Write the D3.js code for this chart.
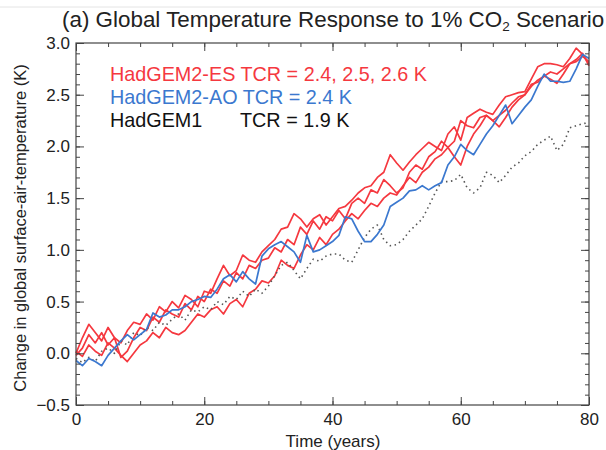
<!DOCTYPE html>
<html>
<head>
<meta charset="utf-8">
<script src="https://d3js.org/d3.v7.min.js"></script>
<style>
  body { margin: 0; background: #fff; }
  svg text { font-family: "Liberation Sans", Arial, sans-serif; fill: #222; }
</style>
</head>
<body>
<svg id="chart" width="606" height="450"></svg>
<script>
// years 0..80, one value per year (K)
var years = d3.range(0, 81);

var esRun1 = [0.0, 0.15, 0.28, 0.2, 0.12, 0.25, 0.15, 0.1, 0.22, 0.3,
  0.28, 0.38, 0.32, 0.45, 0.4, 0.5, 0.44, 0.56, 0.52, 0.45,
  0.6, 0.58, 0.72, 0.85, 0.75, 0.8, 0.95, 0.9, 0.88, 0.98,
  1.04, 1.1, 1.2, 1.22, 1.35, 1.3, 1.22, 1.3, 1.34, 1.24,
  1.32, 1.4, 1.42, 1.48, 1.55, 1.6, 1.62, 1.7, 1.75, 1.92,
  1.84, 1.77, 1.85, 1.92, 1.98, 2.04, 2.0, 1.96, 2.12, 2.19,
  2.06, 2.28, 2.32, 2.36, 2.33, 2.31, 2.4, 2.48, 2.5, 2.52,
  2.53, 2.65, 2.77, 2.8, 2.8, 2.79, 2.77, 2.85, 2.95, 2.89, 2.8];

var esRun2 = [-0.02, 0.05, 0.18, 0.1, 0.2, 0.08, 0.15, -0.04, 0.02, 0.15,
  0.25, 0.22, 0.35, 0.3, 0.42, 0.38, 0.35, 0.48, 0.42, 0.55,
  0.5, 0.62, 0.58, 0.7, 0.65, 0.78, 0.72, 0.85, 0.82, 0.9,
  0.92, 1.02, 0.98, 1.1, 1.05, 1.22, 1.15, 1.28, 1.2, 1.32,
  1.28, 1.38, 1.3, 1.45, 1.5, 1.45, 1.58, 1.55, 1.68, 1.62,
  1.55, 1.6, 1.75, 1.82, 1.78, 1.9, 1.95, 2.05, 1.99, 2.05,
  2.25, 2.2, 2.18, 2.28, 2.3, 2.25, 2.3, 2.35, 2.42, 2.48,
  2.5, 2.6, 2.62, 2.68, 2.72, 2.7, 2.75, 2.8, 2.84, 2.9, 2.78];

var esRun3 = [0.02, -0.03, 0.08, 0.02, -0.02, 0.1, 0.05, -0.02, -0.08, 0.0,
  0.08, 0.12, 0.2, 0.15, 0.25, 0.2, 0.18, 0.22, 0.3, 0.38,
  0.35, 0.42, 0.45, 0.38, 0.48, 0.52, 0.45, 0.58, 0.62, 0.7,
  0.68, 0.75, 0.9, 0.85, 0.82, 0.95, 1.05, 1.0, 1.12, 1.05,
  1.15, 1.2, 1.28, 1.35, 1.3, 1.38, 1.45, 1.42, 1.5, 1.55,
  1.53, 1.62, 1.7, 1.65, 1.75, 1.8, 1.88, 1.92, 1.99, 1.9,
  1.82, 2.0, 2.12, 2.2, 2.3, 2.25, 2.19, 2.28, 2.38, 2.45,
  2.5, 2.58, 2.64, 2.68, 2.65, 2.61, 2.7, 2.8, 2.82, 2.87, 2.82];

var aoRun = [-0.07, -0.12, -0.05, -0.08, -0.12, -0.02, 0.05, 0.12, 0.18, 0.13,
  0.18, 0.23, 0.39, 0.35, 0.37, 0.42, 0.42, 0.45, 0.5, 0.52,
  0.55, 0.54, 0.62, 0.72, 0.76, 0.69, 0.79, 0.72, 0.67, 0.94,
  1.01, 1.05, 1.08, 1.03, 0.98, 0.88, 1.14, 0.98, 1.0, 1.04,
  1.08, 1.14, 1.32, 1.3, 1.18, 1.08, 1.08, 1.15, 1.24, 1.42,
  1.46, 1.5, 1.57, 1.58, 1.62, 1.58, 1.62, 1.65, 1.82, 1.9,
  2.02, 1.96, 1.92, 2.02, 2.12, 2.2, 2.3, 2.4, 2.22, 2.3,
  2.38, 2.45, 2.58, 2.7, 2.63, 2.63, 2.62, 2.63, 2.75, 2.89, 2.85];

var gem1Run = [-0.05, -0.09, -0.04, -0.08, 0.02, 0.05, 0.0, 0.12, 0.08, 0.2,
  0.17, 0.25, 0.22, 0.3, 0.27, 0.33, 0.38, 0.32, 0.42, 0.4,
  0.45, 0.42, 0.5, 0.47, 0.55, 0.52, 0.6, 0.55, 0.62, 0.58,
  0.65, 0.75, 0.85, 0.88, 0.8, 0.72, 0.82, 0.91, 0.89, 0.94,
  0.96, 0.96, 0.9, 0.88, 1.0, 1.12, 1.2, 1.24, 1.1, 1.04,
  1.05, 1.1, 1.18, 1.24, 1.3, 1.42, 1.55, 1.66, 1.66, 1.67,
  1.73, 1.6, 1.55, 1.6, 1.75, 1.72, 1.65, 1.72, 1.8, 1.84,
  1.91, 1.95, 2.02, 2.06, 2.1, 1.96, 2.02, 2.18, 2.2, 2.22, 2.23];

var xTicks = [0, 20, 40, 60, 80];
var yTicks = [-0.5, 0.0, 0.5, 1.0, 1.5, 2.0, 2.5, 3.0];

var series = [
  {name: "es1", values: esRun1, color: "#f5383f", dash: null},
  {name: "es2", values: esRun2, color: "#f5383f", dash: null},
  {name: "es3", values: esRun3, color: "#f5383f", dash: null},
  {name: "gem1", values: gem1Run, color: "#555", dash: "1.5,3.5"},
  {name: "ao", values: aoRun, color: "#3b78cf", dash: null}
];

var svg = d3.select("#chart");
var margin = {top: 43, right: 17, bottom: 45, left: 76};
var W = 606, H = 450;
var w = W - margin.left - margin.right;
var h = H - margin.top - margin.bottom;

// faint rule at very top
svg.append("line").attr("x1", 0).attr("x2", W).attr("y1", 7).attr("y2", 7)
  .attr("stroke", "#e4e4e4").attr("stroke-width", 1);

var g = svg.append("g").attr("transform", "translate(" + margin.left + "," + margin.top + ")");

var x = d3.scaleLinear().domain([0, 80]).range([0, w]);
var y = d3.scaleLinear().domain([-0.5, 3.0]).range([h, 0]);

// lines
var line = d3.line().x(function(d, i) { return x(years[i]); }).y(function(d) { return y(d); });
g.append("g").selectAll("path").data(series).enter().append("path")
  .attr("d", function(s) { return line(s.values); })
  .attr("fill", "none")
  .attr("stroke", function(s) { return s.color; })
  .attr("stroke-width", function(s) { return s.dash ? 1.6 : 1.7; })
  .attr("stroke-dasharray", function(s) { return s.dash; })
  .attr("stroke-linejoin", "round");

// axes, ticks pointing inward on all four sides
function styleAxis(sel) {
  sel.select(".domain").remove();
  sel.selectAll("line").attr("stroke", "#444");
  sel.selectAll("text").style("font-size", "17px").attr("fill", "#222");
}
var xMinor = d3.range(0, 81, 5);
var yMinor = d3.range(-0.5, 3.001, 0.1);

g.append("g").attr("transform", "translate(0," + h + ")")
  .call(d3.axisBottom(x).tickValues(xMinor).tickSize(-4).tickFormat("")).call(styleAxis);
g.append("g").attr("transform", "translate(0," + h + ")")
  .call(d3.axisBottom(x).tickValues(xTicks).tickSize(-8).tickPadding(8).tickFormat(d3.format("d"))).call(styleAxis);
g.append("g")
  .call(d3.axisTop(x).tickValues(xMinor).tickSize(-4).tickFormat("")).call(styleAxis);
g.append("g")
  .call(d3.axisTop(x).tickValues(xTicks).tickSize(-8).tickFormat("")).call(styleAxis);

g.append("g")
  .call(d3.axisLeft(y).tickValues(yMinor).tickSize(-4).tickFormat("")).call(styleAxis);
g.append("g")
  .call(d3.axisLeft(y).tickValues(yTicks).tickSize(-8).tickPadding(6).tickFormat(d3.format(".1f"))).call(styleAxis);
g.append("g").attr("transform", "translate(" + w + ",0)")
  .call(d3.axisRight(y).tickValues(yMinor).tickSize(-4).tickFormat("")).call(styleAxis);
g.append("g").attr("transform", "translate(" + w + ",0)")
  .call(d3.axisRight(y).tickValues(yTicks).tickSize(-8).tickFormat("")).call(styleAxis);

// frame
g.append("rect").attr("width", w).attr("height", h)
  .attr("fill", "none").attr("stroke", "#444").attr("stroke-width", 1.2);

// title
var title = svg.append("text").attr("x", 62).attr("y", 27).style("font-size", "22.4px");
title.append("tspan").text("(a) Global Temperature Response to 1% CO");
title.append("tspan").attr("baseline-shift", "-30%").style("font-size", "13.5px").text("2");
title.append("tspan").text(" Scenario");

// legend
var legend = [
  {label: "HadGEM2-ES TCR = 2.4, 2.5, 2.6 K", color: "#f5383f", y: 81},
  {label: "HadGEM2-AO TCR = 2.4 K", color: "#3b78cf", y: 104},
  {label: "HadGEM1", color: "#111", y: 127}
];
svg.selectAll(".leg").data(legend).enter().append("text")
  .attr("class", "leg").attr("x", 110).attr("y", function(d) { return d.y; })
  .style("font-size", "19.8px").style("fill", function(d) { return d.color; })
  .text(function(d) { return d.label; });
svg.append("text").attr("x", 240).attr("y", 127).style("font-size", "19.8px").style("fill", "#111")
  .text("TCR = 1.9 K");

// axis titles
svg.append("text").attr("x", 333).attr("y", 447)
  .attr("text-anchor", "middle").style("font-size", "17px").text("Time (years)");
svg.append("text").attr("transform", "translate(26,228) rotate(-90)")
  .attr("text-anchor", "middle").style("font-size", "16.5px")
  .text("Change in global surface-air-temperature (K)");
</script>
</body>
</html>
